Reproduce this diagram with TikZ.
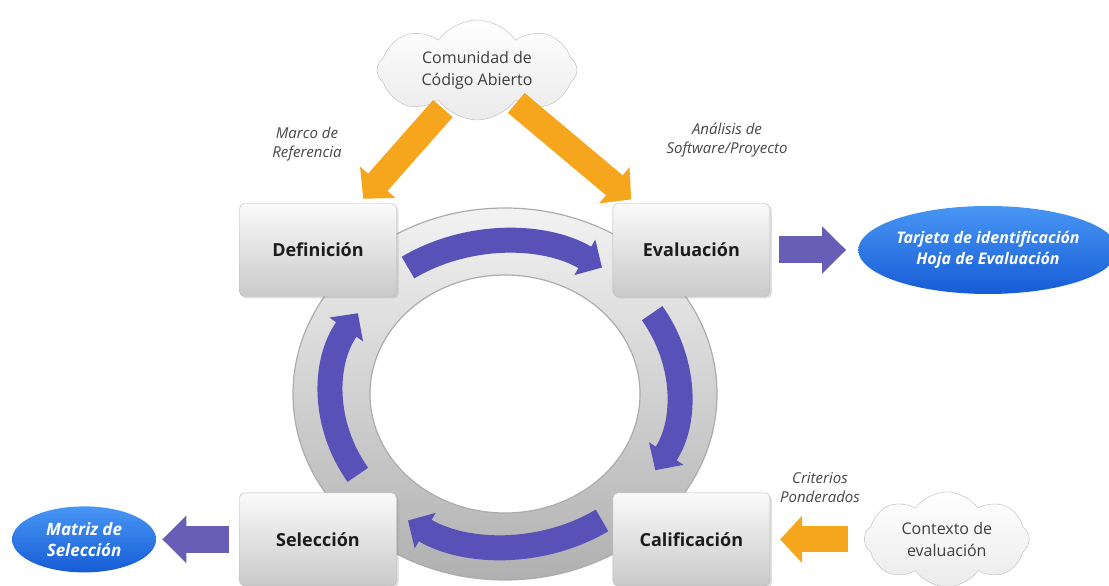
\documentclass[tikz,border=0pt]{standalone}
\usepackage{fontspec}
\setmainfont{Open Sans}
\usetikzlibrary{arrows.meta,positioning,shapes.symbols,shapes.geometric,shadows}

\definecolor{bandblue}{RGB}{88,82,184}
\definecolor{feedorange}{RGB}{246,166,28}
\definecolor{resultpurple}{RGB}{104,94,182}
\definecolor{stagetext}{RGB}{28,28,28}
\definecolor{cloudtext}{RGB}{62,62,62}
\definecolor{notetext}{RGB}{70,70,70}
\definecolor{blobtop}{RGB}{72,150,244}
\definecolor{blobbottom}{RGB}{22,92,214}

\begin{document}
\begin{tikzpicture}[
    x=1pt, y=1pt,
    stage/.style={draw=gray!55, rounded corners=5pt, minimum width=157pt, minimum height=93pt,
        top color=gray!4, bottom color=gray!42,
        drop shadow={shadow xshift=2pt, shadow yshift=-2pt, opacity=0.25},
        font=\fontsize{18}{22}\selectfont\bfseries, text=stagetext},
    source/.style={cloud, cloud puffs=8, cloud puff arc=110, cloud ignores aspect, inner sep=0pt,
        draw=gray!55, top color=white, bottom color=gray!16, align=center,
        font=\fontsize{16}{22}\selectfont, text=cloudtext},
    product/.style={ellipse, inner sep=0pt, top color=blobtop, bottom color=blobbottom, text=white,
        align=center, font=\fontsize{17}{21}\selectfont\bfseries\itshape},
    note/.style={align=center, font=\fontsize{15}{19}\selectfont\itshape, text=notetext},
    feed/.style={line width=26pt, draw=feedorange, -{Triangle[width=46pt,length=22pt]}},
    result/.style={line width=27pt, draw=resultpurple, -{Triangle[width=46pt,length=24pt]}},
    cyclearc/.style={line width=25pt, draw=bandblue, -{Triangle[width=40pt,length=20pt]}}
]
\useasboundingbox (0,0) rectangle (1109,586);

% ring
\coordinate (ringc) at (505,192);
\shadedraw[even odd rule, top color=gray!10, bottom color=gray!62, draw=gray!65, line width=1.2pt]
    (ringc) ellipse [x radius=212pt, y radius=186pt]
    (ringc) ellipse [x radius=135pt, y radius=119pt];
\draw[cyclearc] ([shift={(124:173.5pt and 152.5pt)}]ringc) arc[start angle=124, end angle=56, x radius=173.5pt, y radius=152.5pt];
\draw[cyclearc] ([shift={(32:173.5pt and 152.5pt)}]ringc) arc[start angle=32, end angle=-30, x radius=173.5pt, y radius=152.5pt];
\draw[cyclearc] ([shift={(-56:173.5pt and 152.5pt)}]ringc) arc[start angle=-56, end angle=-124, x radius=173.5pt, y radius=152.5pt];
\draw[cyclearc] ([shift={(212:173.5pt and 152.5pt)}]ringc) arc[start angle=212, end angle=148, x radius=173.5pt, y radius=152.5pt];

% stages
\node[stage] (def) at (318,336) {Definición};
\node[stage, right=216pt of def] (eval) {Evaluación};
\node[stage, below=196pt of def] (sel) {Selección};
\node[stage, right=216pt of sel] (calif) {Calificación};

% sources and products
\node[source, minimum width=200pt, minimum height=100pt] (community) at (477,516) {Comunidad de\\Código Abierto};
\node[source, minimum width=165pt, minimum height=95pt, right=94pt of calif] (context) {Contexto de\\evaluación};
\node[product, minimum width=245pt, minimum height=88pt, right=88pt of eval, font=\fontsize{16}{21}\selectfont\bfseries\itshape] (card) {Tarjeta de identificación\\Hoja de Evaluación};
\node[product, minimum width=144pt, minimum height=66pt, left=83pt of sel] (matrix) {Matriz de\\Selección};

\node[note] (frame) at (307,442) {Marco de\\Referencia};
\node[note] (analysis) at (727,446) {Análisis de\\Software/Proyecto};
\node[note] (criteria) at (820,98) {Criterios\\Ponderados};

\draw[feed, shorten <=2pt, shorten >=6pt] (community) -- (def);
\draw[feed, shorten <=2pt, shorten >=6pt] (community) -- (eval);
\draw[feed, shorten <=16pt, shorten >=10pt] (context) -- (calif);
\draw[result, shorten <=9pt, shorten >=12pt] (eval) -- (card);
\draw[result, shorten <=10pt, shorten >=6pt] (sel) -- (matrix);
\end{tikzpicture}
\end{document}
